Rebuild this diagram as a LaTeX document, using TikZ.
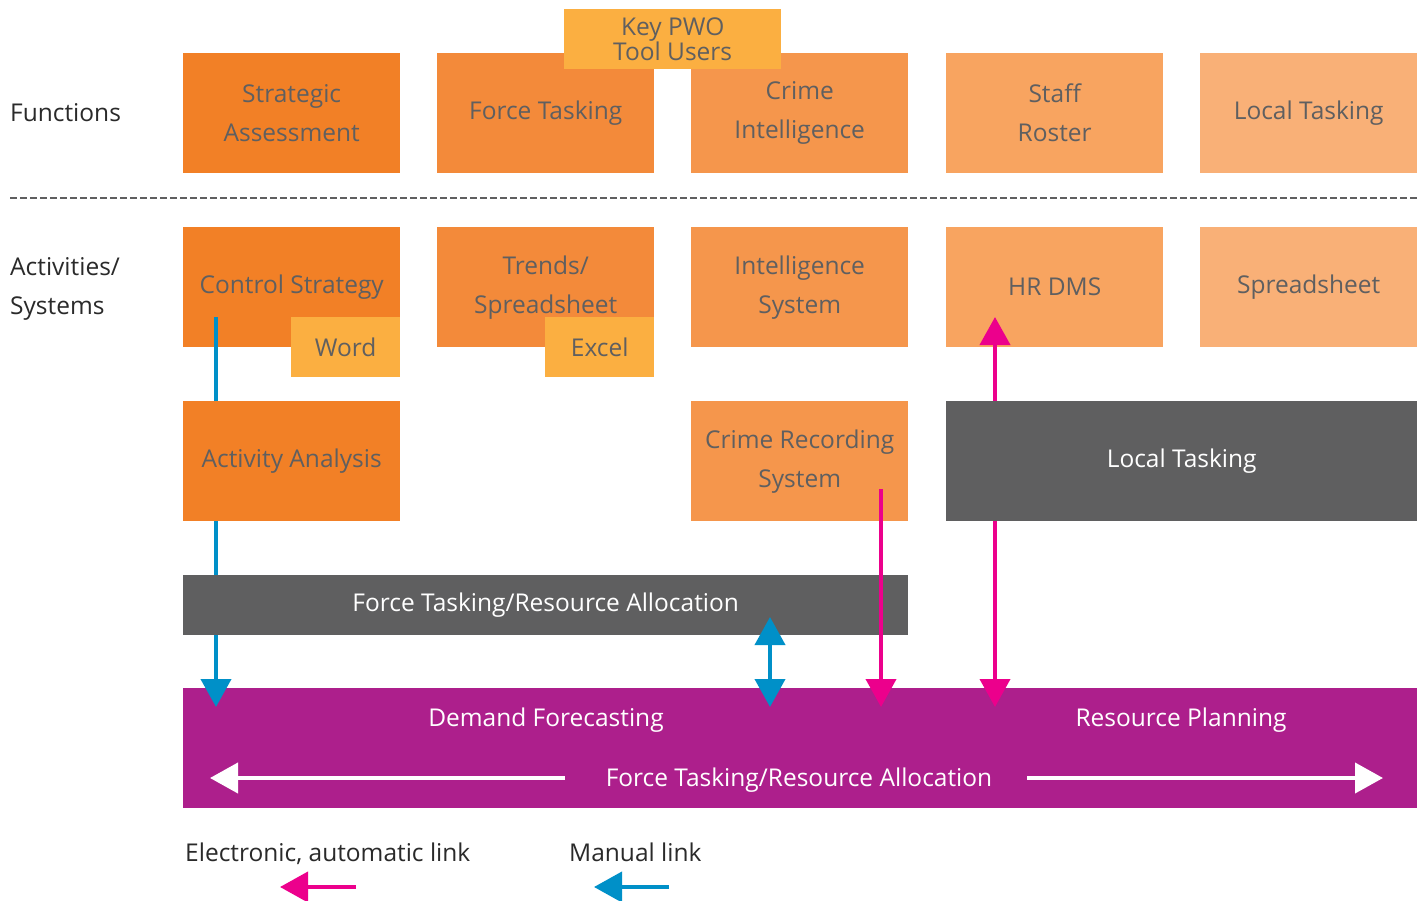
\documentclass[tikz,border=0pt]{standalone}
\usepackage{fontspec}
\setmainfont{Open Sans}
\usetikzlibrary{arrows.meta}
\definecolor{cA}{HTML}{F28026}
\definecolor{cB}{HTML}{F38A3A}
\definecolor{cC}{HTML}{F5964C}
\definecolor{cD}{HTML}{F8A460}
\definecolor{cE}{HTML}{F9B077}
\definecolor{cY}{HTML}{FBAF41}
\definecolor{cG}{HTML}{5F5F60}
\definecolor{cP}{HTML}{AD1F8C}
\definecolor{cBlue}{HTML}{0090C8}
\definecolor{cPink}{HTML}{EC008C}
\definecolor{txt}{HTML}{5F5F60}
\definecolor{dtxt}{HTML}{2A2A2A}
\tikzset{
  box/.style={anchor=north west, inner sep=0pt, minimum width=217pt, minimum height=120pt,
    text=txt, align=center, font=\fontsize{24.5}{39}\selectfont},
  smallbox/.style={anchor=north west, inner sep=0pt, minimum width=109pt, minimum height=60pt,
    fill=cY, text=txt, align=center, font=\fontsize{24.5}{26}\selectfont},
  lbl/.style={anchor=west, inner sep=0pt, text=dtxt, align=left, font=\fontsize{24.5}{39}\selectfont},
  plain/.style={inner sep=0pt, font=\fontsize{24.5}{26}\selectfont},
  bluelink/.style={draw=cBlue, line width=4pt},
  pinklink/.style={draw=cPink, line width=4pt},
  whitelink/.style={draw=white, line width=4pt}
}
\begin{document}
\begin{tikzpicture}[x=1pt,y=-1pt]
\useasboundingbox[fill=white] (0,0) rectangle (1421,901);
% purple band
\node[box, fill=cP, minimum width=1234pt, text=white] (pb) at (183,688) {};
\node[plain, text=white] (df) at (546,720) {Demand Forecasting};
\node[plain, text=white] (rp) at (1181,720) {Resource Planning};
\node[plain, text=white] (fra) at (799,780) {Force Tasking/Resource Allocation};
\coordinate (wl0) at (565,778); \coordinate (wl1) at (210,778);
\coordinate (wr0) at (1027,778); \coordinate (wr1) at (1383,778);
\draw[whitelink, -{Triangle[width=30pt,length=28pt]}] (wl0) -- (wl1);
\draw[whitelink, -{Triangle[width=30pt,length=28pt]}] (wr0) -- (wr1);
% labels
\node[lbl] (fun) at (10,113) {Functions};
\node[lbl] (act) at (10,289) {Activities/\\Systems};
% top row
\node[box, fill=cA] (sa) at (183,53) {Strategic\\Assessment};
\node[box, fill=cB] (ft) at (437,53) {Force Tasking};
\node[box, fill=cC] (ci) at (691,53) {Crime\\Intelligence};
\node[box, fill=cD] (sr) at (946,53) {Staff\\Roster};
\node[box, fill=cE] (lt) at (1200,53) {Local Tasking};
\node[smallbox, minimum width=217pt] (key) at (564,9) {Key PWO\\[-1pt]Tool Users};
% dashed
\coordinate (d0) at (10,198); \coordinate (d1) at (1417,198);
\draw[cG, line width=1.3pt, dash pattern=on 7pt off 3pt] (d0) -- (d1);
% second row
\node[box, fill=cA] (cs) at (183,227) {\raisebox{-2pt}{Control Strategy}};
\node[box, fill=cB] (tr) at (437,227) {Trends/\\Spreadsheet};
\node[box, fill=cC] (is) at (691,227) {Intelligence\\System};
\node[box, fill=cD] (hr) at (946,227) {HR DMS};
\node[box, fill=cE] (ss) at (1200,227) {\raisebox{-2pt}{Spreadsheet}};
\node[smallbox] (wd) at (291,317) {Word};
\node[smallbox] (xl) at (545,317) {Excel};
% links behind boxes
\coordinate (b1a) at (216,317); \coordinate (b1b) at (216,707);
\draw[bluelink, -{Triangle[width=30pt,length=28pt]}] (b1a) -- (b1b);
\coordinate (p2a) at (995,317); \coordinate (p2b) at (995,707);
\draw[pinklink, {Triangle[width=30pt,length=28pt]}-{Triangle[width=30pt,length=28pt]}] (p2a) -- (p2b);
% third row
\node[box, fill=cA] (aa) at (183,401) {Activity Analysis};
\node[box, fill=cC] (cr) at (691,401) {Crime Recording\\System};
\node[box, fill=cG, minimum width=471pt, text=white] (lt2) at (946,401) {Local Tasking};
\node[box, fill=cG, minimum width=725pt, minimum height=60pt, text=white, font=\fontsize{24.5}{26}\selectfont] (ftb) at (183,575) {Force Tasking/Resource Allocation};
% links in front
\coordinate (p1a) at (881,489); \coordinate (p1b) at (881,707);
\draw[pinklink, -{Triangle[width=30pt,length=28pt]}] (p1a) -- (p1b);
\coordinate (b2a) at (770,617); \coordinate (b2b) at (770,707);
\draw[bluelink, {Triangle[width=30pt,length=28pt]}-{Triangle[width=30pt,length=28pt]}] (b2a) -- (b2b);
% legend
\node[plain, anchor=base west, text=dtxt] (le) at (185,861) {Electronic, automatic link};
\node[plain, anchor=base west, text=dtxt] (lm) at (569,861) {Manual link};
\coordinate (lp0) at (356,887); \coordinate (lp1) at (280,887);
\draw[pinklink, -{Triangle[width=30pt,length=28pt]}] (lp0) -- (lp1);
\coordinate (lb0) at (669,887); \coordinate (lb1) at (594,887);
\draw[bluelink, -{Triangle[width=30pt,length=28pt]}] (lb0) -- (lb1);
\end{tikzpicture}
\end{document}
